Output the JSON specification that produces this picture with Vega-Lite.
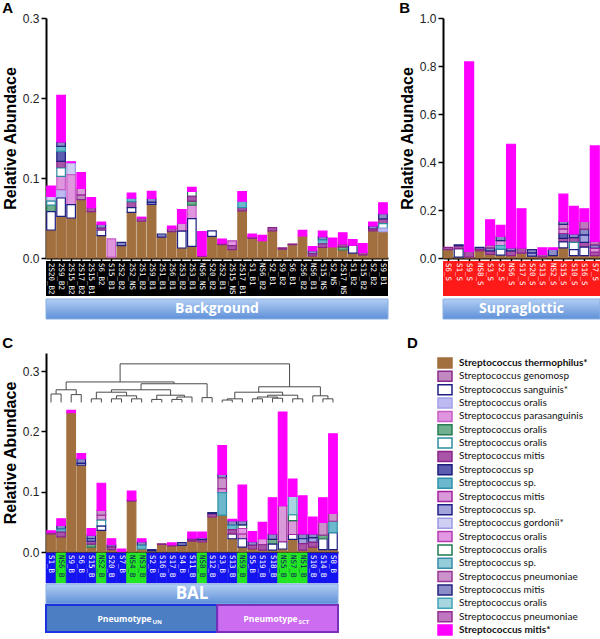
{
"$schema":"https://vega.github.io/schema/vega-lite/v6.json",
"background":"#ffffff",
"padding":{"left":2,"top":1,"right":0,"bottom":0},
"autosize":{"type":"pad"},
"config":{"view":{"stroke":null},"font":"Liberation Sans",
 "axis":{"grid":false,"domainColor":"#000","domainWidth":2,"tickColor":"#000","tickWidth":1.5,"tickSize":5,"labelFont":"Liberation Sans","labelFontSize":12,"labelColor":"#222","titleFont":"Liberation Sans","titleFontSize":16,"titleFontWeight":"bold","titleColor":"#000","titlePadding":4},
 "title":{"anchor":"start","font":"Liberation Sans","fontSize":15,"fontWeight":"bold","color":"#000","offset":-4}},
"datasets":{
"K":[{"k":"01","n":"Streptococcus thermophilus*"},{"k":"02","n":"Streptococcus genomosp"},{"k":"03","n":"Streptococcus sanguinis*"},{"k":"04","n":"Streptococcus oralis"},{"k":"05","n":"Streptococcus parasanguinis"},{"k":"06","n":"Streptococcus oralis"},{"k":"07","n":"Streptococcus oralis"},{"k":"08","n":"Streptococcus mitis"},{"k":"09","n":"Streptococcus sp"},{"k":"10","n":"Streptococcus sp."},{"k":"11","n":"Streptococcus mitis"},{"k":"12","n":"Streptococcus sp."},{"k":"13","n":"Streptococcus gordonii*"},{"k":"14","n":"Streptococcus oralis"},{"k":"15","n":"Streptococcus oralis"},{"k":"16","n":"Streptococcus sp."},{"k":"17","n":"Streptococcus pneumoniae"},{"k":"18","n":"Streptococcus mitis"},{"k":"19","n":"Streptococcus oralis"},{"k":"20","n":"Streptococcus pneumoniae"},{"k":"21","n":"Streptococcus mitis*"}],
"As":[{"s":"2S20_B2"},{"s":"2S9_B2"},{"s":"2S15_B2"},{"s":"2S17_B2"},{"s":"2S15_B1"},{"s":"S6_B2"},{"s":"S15_B1"},{"s":"2S2_B2"},{"s":"2S2_NS"},{"s":"2S1_B2"},{"s":"2S9_B1"},{"s":"2S1_B1"},{"s":"2S6_B1"},{"s":"2S3_B2"},{"s":"2S3_B1"},{"s":"NS6_NS"},{"s":"S20_B2"},{"s":"2S2_B1"},{"s":"2S15_NS"},{"s":"2S17_B1"},{"s":"S1_B1"},{"s":"NS6_B2"},{"s":"S2_B1"},{"s":"S9_B2"},{"s":"S6_B1"},{"s":"2S6_B2"},{"s":"NS6_B1"},{"s":"S15_NS"},{"s":"S2_NS"},{"s":"2S17_NS"},{"s":"S1_B2"},{"s":"S15_B2"},{"s":"S2_B2"},{"s":"S9_B1"}],
"Bs":[{"s":"S6_S"},{"s":"S1_S"},{"s":"S9_S"},{"s":"NS8_S"},{"s":"S3_S"},{"s":"S2_S"},{"s":"NS6_S"},{"s":"S17_S"},{"s":"S20_S"},{"s":"S13_S"},{"s":"NS2_S"},{"s":"S15_S"},{"s":"S10_S"},{"s":"S16_S"},{"s":"S7_S"}],
"Cs":[{"s":"S1_B"},{"s":"NS6_B"},{"s":"S9_B"},{"s":"S6_B"},{"s":"S15_B"},{"s":"NS2_B"},{"s":"S20_B"},{"s":"S7_B"},{"s":"NS4_B"},{"s":"NS3_B"},{"s":"S2_B"},{"s":"S16_B"},{"s":"S17_B"},{"s":"S4_B"},{"s":"S11_B"},{"s":"NS8_B"},{"s":"S12_B"},{"s":"S3_B"},{"s":"S13_B"},{"s":"NS9_B"},{"s":"S5_B"},{"s":"S19_B"},{"s":"S18_B"},{"s":"NS5_B"},{"s":"NS7_B"},{"s":"NS1_B"},{"s":"S10_B"},{"s":"S14_B"},{"s":"S8_B"}],
"A":[
{"s":"2S20_B2","k":"01","v":0.035},{"s":"2S20_B2","k":"13","v":0.006},{"s":"2S20_B2","k":"06","v":0.008},{"s":"2S20_B2","k":"03","v":0.023},{"s":"2S20_B2","k":"07","v":0.005},{"s":"2S20_B2","k":"21","v":0.013},
{"s":"2S9_B2","k":"01","v":0.052},{"s":"2S9_B2","k":"04","v":0.0104},{"s":"2S9_B2","k":"03","v":0.023},{"s":"2S9_B2","k":"05","v":0.0167},{"s":"2S9_B2","k":"08","v":0.0083},{"s":"2S9_B2","k":"09","v":0.0125},{"s":"2S9_B2","k":"07","v":0.0104},{"s":"2S9_B2","k":"10","v":0.0063},{"s":"2S9_B2","k":"18","v":0.0054},{"s":"2S9_B2","k":"21","v":0.0583},
{"s":"2S15_B2","k":"01","v":0.05},{"s":"2S15_B2","k":"13","v":0.015},{"s":"2S15_B2","k":"05","v":0.0375},{"s":"2S15_B2","k":"03","v":0.0167},{"s":"2S15_B2","k":"21","v":0.001},
{"s":"2S17_B2","k":"01","v":0.073},{"s":"2S17_B2","k":"02","v":0.006},{"s":"2S17_B2","k":"11","v":0.008},{"s":"2S17_B2","k":"21","v":0.0196},
{"s":"2S15_B1","k":"01","v":0.058},{"s":"2S15_B1","k":"08","v":0.005},{"s":"2S15_B1","k":"21","v":0.0125},
{"s":"S6_B2","k":"01","v":0.028},{"s":"S6_B2","k":"03","v":0.007},{"s":"S6_B2","k":"18","v":0.005},{"s":"S6_B2","k":"08","v":0.002},{"s":"S6_B2","k":"21","v":0.003},
{"s":"S15_B1","k":"01","v":0.001},{"s":"S15_B1","k":"05","v":0.023},
{"s":"2S2_B2","k":"01","v":0.0155},{"s":"2S2_B2","k":"18","v":0.004},
{"s":"2S2_NS","k":"01","v":0.057},{"s":"2S2_NS","k":"08","v":0.0075},{"s":"2S2_NS","k":"03","v":0.006},{"s":"2S2_NS","k":"10","v":0.0044},{"s":"2S2_NS","k":"21","v":0.0063},
{"s":"2S1_B2","k":"01","v":0.046},{"s":"2S1_B2","k":"08","v":0.004},{"s":"2S1_B2","k":"21","v":0.001},
{"s":"2S9_B1","k":"01","v":0.067},{"s":"2S9_B1","k":"18","v":0.005},{"s":"2S9_B1","k":"12","v":0.0025},{"s":"2S9_B1","k":"21","v":0.0088},
{"s":"2S1_B1","k":"01","v":0.026},{"s":"2S1_B1","k":"18","v":0.004},
{"s":"2S6_B1","k":"01","v":0.033},{"s":"2S6_B1","k":"08","v":0.004},{"s":"2S6_B1","k":"21","v":0.003},
{"s":"2S3_B2","k":"01","v":0.0125},{"s":"2S3_B2","k":"11","v":0.01},{"s":"2S3_B2","k":"03","v":0.021},{"s":"2S3_B2","k":"21","v":0.017},
{"s":"2S3_B1","k":"01","v":0.0146},{"s":"2S3_B1","k":"05","v":0.017},{"s":"2S3_B1","k":"06","v":0.005},{"s":"2S3_B1","k":"03","v":0.0346},{"s":"2S3_B1","k":"15","v":0.006},{"s":"2S3_B1","k":"08","v":0.006},{"s":"2S3_B1","k":"21","v":0.005},
{"s":"NS6_NS","k":"01","v":0.002},{"s":"NS6_NS","k":"08","v":0.001},{"s":"NS6_NS","k":"21","v":0.03},
{"s":"S20_B2","k":"01","v":0.027},{"s":"S20_B2","k":"03","v":0.007},
{"s":"2S2_B1","k":"01","v":0.0167},{"s":"2S2_B1","k":"08","v":0.002},{"s":"2S2_B1","k":"21","v":0.005},
{"s":"2S15_NS","k":"01","v":0.0104},{"s":"2S15_NS","k":"14","v":0.006},{"s":"2S15_NS","k":"08","v":0.005},
{"s":"2S17_B1","k":"01","v":0.059},{"s":"2S17_B1","k":"08","v":0.004},{"s":"2S17_B1","k":"10","v":0.008},{"s":"2S17_B1","k":"21","v":0.012},
{"s":"S1_B1","k":"01","v":0.0246},{"s":"S1_B1","k":"08","v":0.002},{"s":"S1_B1","k":"21","v":0.0034},
{"s":"NS6_B2","k":"01","v":0.0217},{"s":"NS6_B2","k":"21","v":0.0067},
{"s":"S2_B1","k":"01","v":0.034},{"s":"S2_B1","k":"08","v":0.004},
{"s":"S9_B2","k":"01","v":0.011},{"s":"S9_B2","k":"08","v":0.0017},
{"s":"S6_B1","k":"01","v":0.0167},{"s":"S6_B1","k":"08","v":0.0008},
{"s":"2S6_B2","k":"01","v":0.0275},{"s":"2S6_B2","k":"21","v":0.0071},
{"s":"NS6_B1","k":"01","v":0.0025},{"s":"NS6_B1","k":"18","v":0.004},{"s":"NS6_B1","k":"08","v":0.0027},{"s":"NS6_B1","k":"21","v":0.005},
{"s":"S15_NS","k":"01","v":0.0133},{"s":"S15_NS","k":"18","v":0.004},{"s":"S15_NS","k":"10","v":0.005},{"s":"S15_NS","k":"08","v":0.0043},{"s":"S15_NS","k":"21","v":0.007},
{"s":"S2_NS","k":"01","v":0.014},{"s":"S2_NS","k":"21","v":0.011},
{"s":"2S17_NS","k":"01","v":0.01},{"s":"2S17_NS","k":"06","v":0.004},{"s":"2S17_NS","k":"08","v":0.0035},{"s":"2S17_NS","k":"21","v":0.014},
{"s":"S1_B2","k":"01","v":0.006},{"s":"S1_B2","k":"03","v":0.01},{"s":"S1_B2","k":"21","v":0.007},
{"s":"S15_B2","k":"01","v":0.004},{"s":"S15_B2","k":"08","v":0.003},{"s":"S15_B2","k":"21","v":0.011},
{"s":"S2_B2","k":"01","v":0.034},{"s":"S2_B2","k":"18","v":0.004},{"s":"S2_B2","k":"08","v":0.002},{"s":"S2_B2","k":"21","v":0.005},
{"s":"S9_B1","k":"01","v":0.033},{"s":"S9_B1","k":"08","v":0.006},{"s":"S9_B1","k":"07","v":0.006},{"s":"S9_B1","k":"18","v":0.0065},{"s":"S9_B1","k":"04","v":0.004},{"s":"S9_B1","k":"21","v":0.0135}],
"B":[
{"s":"S6_S","k":"01","v":0.035},{"s":"S6_S","k":"08","v":0.009},
{"s":"S1_S","k":"01","v":0.004},{"s":"S1_S","k":"03","v":0.035},{"s":"S1_S","k":"08","v":0.012},{"s":"S1_S","k":"18","v":0.004},
{"s":"S9_S","k":"01","v":0.004},{"s":"S9_S","k":"08","v":0.024},{"s":"S9_S","k":"21","v":0.789},
{"s":"NS8_S","k":"01","v":0.03},{"s":"NS8_S","k":"18","v":0.008},{"s":"NS8_S","k":"08","v":0.006},
{"s":"S3_S","k":"01","v":0.015},{"s":"S3_S","k":"08","v":0.015},{"s":"S3_S","k":"18","v":0.012},{"s":"S3_S","k":"20","v":0.013},{"s":"S3_S","k":"21","v":0.104},
{"s":"S2_S","k":"01","v":0.012},{"s":"S2_S","k":"14","v":0.02},{"s":"S2_S","k":"03","v":0.025},{"s":"S2_S","k":"10","v":0.015},{"s":"S2_S","k":"18","v":0.018},{"s":"S2_S","k":"21","v":0.046},
{"s":"NS6_S","k":"01","v":0.01},{"s":"NS6_S","k":"08","v":0.02},{"s":"NS6_S","k":"18","v":0.012},{"s":"NS6_S","k":"21","v":0.432},
{"s":"S17_S","k":"01","v":0.02},{"s":"S17_S","k":"08","v":0.022},{"s":"S17_S","k":"21","v":0.163},
{"s":"S20_S","k":"01","v":0.008},{"s":"S20_S","k":"18","v":0.015},{"s":"S20_S","k":"12","v":0.012},
{"s":"S13_S","k":"01","v":0.005},{"s":"S13_S","k":"08","v":0.01},{"s":"S13_S","k":"21","v":0.027},
{"s":"NS2_S","k":"01","v":0.01},{"s":"NS2_S","k":"18","v":0.026},{"s":"NS2_S","k":"21","v":0.006},
{"s":"S15_S","k":"01","v":0.042},{"s":"S15_S","k":"17","v":0.02},{"s":"S15_S","k":"08","v":0.015},{"s":"S15_S","k":"03","v":0.025},{"s":"S15_S","k":"09","v":0.02},{"s":"S15_S","k":"18","v":0.012},{"s":"S15_S","k":"11","v":0.018},{"s":"S15_S","k":"21","v":0.114},
{"s":"S10_S","k":"01","v":0.01},{"s":"S10_S","k":"08","v":0.02},{"s":"S10_S","k":"07","v":0.03},{"s":"S10_S","k":"03","v":0.025},{"s":"S10_S","k":"18","v":0.015},{"s":"S10_S","k":"21","v":0.115},
{"s":"S16_S","k":"01","v":0.01},{"s":"S16_S","k":"08","v":0.02},{"s":"S16_S","k":"18","v":0.025},{"s":"S16_S","k":"03","v":0.035},{"s":"S16_S","k":"12","v":0.03},{"s":"S16_S","k":"20","v":0.032},{"s":"S16_S","k":"21","v":0.053},
{"s":"S7_S","k":"01","v":0.01},{"s":"S7_S","k":"08","v":0.015},{"s":"S7_S","k":"18","v":0.015},{"s":"S7_S","k":"11","v":0.015},{"s":"S7_S","k":"20","v":0.015},{"s":"S7_S","k":"21","v":0.397}],
"C":[
{"s":"S1_B","k":"01","v":0.03},{"s":"S1_B","k":"08","v":0.003},{"s":"S1_B","k":"21","v":0.002},
{"s":"NS6_B","k":"01","v":0.025},{"s":"NS6_B","k":"18","v":0.006},{"s":"NS6_B","k":"10","v":0.005},{"s":"NS6_B","k":"08","v":0.008},{"s":"NS6_B","k":"21","v":0.011},
{"s":"S9_B","k":"01","v":0.231},{"s":"S9_B","k":"21","v":0.004},
{"s":"S6_B","k":"01","v":0.144},{"s":"S6_B","k":"18","v":0.008},{"s":"S6_B","k":"03","v":0.003},{"s":"S6_B","k":"21","v":0.008},
{"s":"S15_B","k":"01","v":0.008},{"s":"S15_B","k":"18","v":0.006},{"s":"S15_B","k":"06","v":0.005},{"s":"S15_B","k":"08","v":0.005},{"s":"S15_B","k":"12","v":0.004},{"s":"S15_B","k":"21","v":0.011},
{"s":"NS2_B","k":"01","v":0.036},{"s":"NS2_B","k":"11","v":0.008},{"s":"NS2_B","k":"07","v":0.01},{"s":"NS2_B","k":"17","v":0.008},{"s":"NS2_B","k":"03","v":0.007},{"s":"NS2_B","k":"21","v":0.045},
{"s":"S20_B","k":"01","v":0.004},{"s":"S20_B","k":"18","v":0.004},{"s":"S20_B","k":"08","v":0.004},{"s":"S20_B","k":"21","v":0.01},
{"s":"S7_B","k":"01","v":0.001},{"s":"S7_B","k":"21","v":0.004},
{"s":"NS4_B","k":"01","v":0.0845},{"s":"NS4_B","k":"08","v":0.002},{"s":"NS4_B","k":"21","v":0.0145},
{"s":"NS3_B","k":"01","v":0.005},{"s":"NS3_B","k":"18","v":0.006},{"s":"NS3_B","k":"10","v":0.006},{"s":"NS3_B","k":"21","v":0.005},
{"s":"S2_B","k":"01","v":0.002},{"s":"S2_B","k":"18","v":0.002},
{"s":"S16_B","k":"01","v":0.0125},{"s":"S16_B","k":"08","v":0.001},
{"s":"S17_B","k":"01","v":0.01},{"s":"S17_B","k":"08","v":0.002},{"s":"S17_B","k":"21","v":0.003},
{"s":"S4_B","k":"01","v":0.011},{"s":"S4_B","k":"18","v":0.0045},
{"s":"S11_B","k":"01","v":0.018},{"s":"S11_B","k":"18","v":0.003},{"s":"S11_B","k":"08","v":0.002},{"s":"S11_B","k":"21","v":0.01},
{"s":"NS8_B","k":"01","v":0.0166},{"s":"NS8_B","k":"08","v":0.004},{"s":"NS8_B","k":"18","v":0.003},{"s":"NS8_B","k":"21","v":0.0094},
{"s":"S12_B","k":"01","v":0.058},{"s":"S12_B","k":"08","v":0.0055},{"s":"S12_B","k":"18","v":0.002},
{"s":"S3_B","k":"01","v":0.061},{"s":"S3_B","k":"11","v":0.0065},{"s":"S3_B","k":"10","v":0.0375},{"s":"S3_B","k":"18","v":0.0055},{"s":"S3_B","k":"17","v":0.018},{"s":"S3_B","k":"21","v":0.048},
{"s":"S13_B","k":"01","v":0.022},{"s":"S13_B","k":"18","v":0.008},{"s":"S13_B","k":"10","v":0.007},{"s":"S13_B","k":"03","v":0.008},{"s":"S13_B","k":"08","v":0.007},{"s":"S13_B","k":"21","v":0.002},
{"s":"NS9_B","k":"01","v":0.008},{"s":"NS9_B","k":"11","v":0.008},{"s":"NS9_B","k":"03","v":0.014},{"s":"NS9_B","k":"15","v":0.006},{"s":"NS9_B","k":"14","v":0.009},{"s":"NS9_B","k":"18","v":0.007},{"s":"NS9_B","k":"21","v":0.059},
{"s":"S5_B","k":"01","v":0.005},{"s":"S5_B","k":"18","v":0.006},{"s":"S5_B","k":"08","v":0.006},{"s":"S5_B","k":"21","v":0.017},
{"s":"S19_B","k":"01","v":0.003},{"s":"S19_B","k":"14","v":0.01},{"s":"S19_B","k":"08","v":0.009},{"s":"S19_B","k":"21","v":0.027},
{"s":"S18_B","k":"01","v":0.003},{"s":"S18_B","k":"06","v":0.008},{"s":"S18_B","k":"03","v":0.01},{"s":"S18_B","k":"18","v":0.009},{"s":"S18_B","k":"21","v":0.06},
{"s":"NS5_B","k":"01","v":0.005},{"s":"NS5_B","k":"03","v":0.012},{"s":"NS5_B","k":"11","v":0.06},{"s":"NS5_B","k":"21","v":0.155},
{"s":"NS7_B","k":"01","v":0.021},{"s":"NS7_B","k":"03","v":0.008},{"s":"NS7_B","k":"11","v":0.023},{"s":"NS7_B","k":"15","v":0.01},{"s":"NS7_B","k":"19","v":0.03},{"s":"NS7_B","k":"21","v":0.029},
{"s":"NS1_B","k":"01","v":0.003},{"s":"NS1_B","k":"18","v":0.008},{"s":"NS1_B","k":"12","v":0.008},{"s":"NS1_B","k":"08","v":0.011},{"s":"NS1_B","k":"21","v":0.063},
{"s":"S10_B","k":"01","v":0.008},{"s":"S10_B","k":"12","v":0.008},{"s":"S10_B","k":"18","v":0.006},{"s":"S10_B","k":"08","v":0.008},{"s":"S10_B","k":"21","v":0.028},
{"s":"S14_B","k":"01","v":0.004},{"s":"S14_B","k":"03","v":0.018},{"s":"S14_B","k":"06","v":0.006},{"s":"S14_B","k":"17","v":0.021},{"s":"S14_B","k":"21","v":0.041},
{"s":"S8_B","k":"01","v":0.004},{"s":"S8_B","k":"03","v":0.028},{"s":"S8_B","k":"10","v":0.019},{"s":"S8_B","k":"17","v":0.013},{"s":"S8_B","k":"21","v":0.132}],
"Cd":[
{"x":0,"x2":1,"y":0.262,"y2":0.262},{"x":0,"x2":0,"y":0.262,"y2":0.248},{"x":1,"x2":1,"y":0.262,"y2":0.248},
{"x":2,"x2":3,"y":0.261,"y2":0.261},{"x":2,"x2":2,"y":0.261,"y2":0.248},{"x":3,"x2":3,"y":0.261,"y2":0.248},
{"x":0.5,"x2":2.5,"y":0.269,"y2":0.269},{"x":0.5,"x2":0.5,"y":0.269,"y2":0.262},{"x":2.5,"x2":2.5,"y":0.269,"y2":0.261},
{"x":4,"x2":5,"y":0.254,"y2":0.254},{"x":4,"x2":4,"y":0.254,"y2":0.248},{"x":5,"x2":5,"y":0.254,"y2":0.248},
{"x":6,"x2":7,"y":0.254,"y2":0.254},{"x":6,"x2":6,"y":0.254,"y2":0.248},{"x":7,"x2":7,"y":0.254,"y2":0.248},
{"x":8,"x2":9,"y":0.254,"y2":0.254},{"x":8,"x2":8,"y":0.254,"y2":0.248},{"x":9,"x2":9,"y":0.254,"y2":0.248},
{"x":6.5,"x2":8.5,"y":0.259,"y2":0.259},{"x":6.5,"x2":6.5,"y":0.259,"y2":0.254},{"x":8.5,"x2":8.5,"y":0.259,"y2":0.254},
{"x":4.5,"x2":7.5,"y":0.265,"y2":0.265},{"x":4.5,"x2":4.5,"y":0.265,"y2":0.254},{"x":7.5,"x2":7.5,"y":0.265,"y2":0.259},
{"x":10,"x2":11,"y":0.253,"y2":0.253},{"x":10,"x2":10,"y":0.253,"y2":0.248},{"x":11,"x2":11,"y":0.253,"y2":0.248},
{"x":12,"x2":13,"y":0.253,"y2":0.253},{"x":12,"x2":12,"y":0.253,"y2":0.248},{"x":13,"x2":13,"y":0.253,"y2":0.248},
{"x":12.5,"x2":14,"y":0.257,"y2":0.257},{"x":12.5,"x2":12.5,"y":0.257,"y2":0.253},{"x":14,"x2":14,"y":0.257,"y2":0.248},
{"x":10.5,"x2":13.25,"y":0.26,"y2":0.26},{"x":10.5,"x2":10.5,"y":0.26,"y2":0.253},{"x":13.25,"x2":13.25,"y":0.26,"y2":0.257},
{"x":6,"x2":11.875,"y":0.269,"y2":0.269},{"x":6,"x2":6,"y":0.269,"y2":0.265},{"x":11.875,"x2":11.875,"y":0.269,"y2":0.26},
{"x":15,"x2":16,"y":0.256,"y2":0.256},{"x":15,"x2":15,"y":0.256,"y2":0.248},{"x":16,"x2":16,"y":0.256,"y2":0.248},
{"x":8.94,"x2":15.5,"y":0.279,"y2":0.279},{"x":8.94,"x2":8.94,"y":0.279,"y2":0.269},{"x":15.5,"x2":15.5,"y":0.279,"y2":0.256},
{"x":1.5,"x2":12.22,"y":0.282,"y2":0.282},{"x":1.5,"x2":1.5,"y":0.282,"y2":0.269},{"x":12.22,"x2":12.22,"y":0.282,"y2":0.279},
{"x":17,"x2":18,"y":0.252,"y2":0.252},{"x":17,"x2":17,"y":0.252,"y2":0.248},{"x":18,"x2":18,"y":0.252,"y2":0.248},
{"x":17.5,"x2":19,"y":0.254,"y2":0.254},{"x":17.5,"x2":17.5,"y":0.254,"y2":0.252},{"x":19,"x2":19,"y":0.254,"y2":0.248},
{"x":20,"x2":21,"y":0.254,"y2":0.254},{"x":20,"x2":20,"y":0.254,"y2":0.248},{"x":21,"x2":21,"y":0.254,"y2":0.248},
{"x":22,"x2":23,"y":0.255,"y2":0.255},{"x":22,"x2":22,"y":0.255,"y2":0.248},{"x":23,"x2":23,"y":0.255,"y2":0.248},
{"x":20.5,"x2":22.5,"y":0.257,"y2":0.257},{"x":20.5,"x2":20.5,"y":0.257,"y2":0.254},{"x":22.5,"x2":22.5,"y":0.257,"y2":0.255},
{"x":24,"x2":25,"y":0.254,"y2":0.254},{"x":24,"x2":24,"y":0.254,"y2":0.248},{"x":25,"x2":25,"y":0.254,"y2":0.248},
{"x":21.5,"x2":24.5,"y":0.26,"y2":0.26},{"x":21.5,"x2":21.5,"y":0.26,"y2":0.257},{"x":24.5,"x2":24.5,"y":0.26,"y2":0.254},
{"x":18.25,"x2":23,"y":0.265,"y2":0.265},{"x":18.25,"x2":18.25,"y":0.265,"y2":0.254},{"x":23,"x2":23,"y":0.265,"y2":0.26},
{"x":27,"x2":28,"y":0.254,"y2":0.254},{"x":27,"x2":27,"y":0.254,"y2":0.248},{"x":28,"x2":28,"y":0.254,"y2":0.248},
{"x":26,"x2":27.5,"y":0.259,"y2":0.259},{"x":26,"x2":26,"y":0.259,"y2":0.248},{"x":27.5,"x2":27.5,"y":0.259,"y2":0.254},
{"x":20.625,"x2":26.75,"y":0.274,"y2":0.274},{"x":20.625,"x2":20.625,"y":0.274,"y2":0.265},{"x":26.75,"x2":26.75,"y":0.274,"y2":0.259},
{"x":6.86,"x2":23.69,"y":0.312,"y2":0.312},{"x":6.86,"x2":6.86,"y":0.312,"y2":0.282},{"x":23.69,"x2":23.69,"y":0.312,"y2":0.274}],
"P":[{"g":"UN","a":0,"b":17,"m":8.5},{"g":"SCT","a":17,"b":29,"m":23}]
},
"vconcat":[
{"hconcat":[
 {"title":{"text":"A"},"bounds":"flush","spacing":3,"vconcat":[
  {"width":342,"height":240,"data":{"name":"A"},"mark":{"type":"bar","strokeWidth":1.2},
   "encoding":{
    "x":{"field":"s","type":"nominal","sort":null,"scale":{"paddingInner":0.15,"paddingOuter":0.075},"axis":{"labels":false,"title":null,"tickSize":4}},
    "y":{"field":"v","type":"quantitative","scale":{"domain":[0,0.3],"nice":false},"axis":{"values":[0,0.1,0.2,0.3],"format":".1f","title":"Relative Abundace"}},
    "fill":{"field":"k","type":"nominal","legend":null,"scale":{"domain":["01","02","03","04","05","06","07","08","09","10","11","12","13","14","15","16","17","18","19","20","21"],"range":["#A26F3E","#C08AC0","#FFFFFF","#BDBAF2","#DF96DF","#6FB08E","#FFFFFF","#A855A8","#5C5CB0","#6CB8CC","#DA9ADA","#A4A4DC","#CFCFF4","#E298E2","#FFFFFF","#94CCDA","#CC92CC","#8C8CC8","#A8D6E0","#BF78BF","#FF00FF"]}},
    "stroke":{"field":"k","type":"nominal","legend":null,"scale":{"domain":["01","02","03","04","05","06","07","08","09","10","11","12","13","14","15","16","17","18","19","20","21"],"range":["#A26F3E","#8C2A8C","#1E1E82","#A3A0EA","#C75CC7","#2B7C54","#2B8E9E","#8A238C","#1C1C7C","#2F92AA","#A3239F","#1F1F88","#9C9AE4","#B43AB4","#1F7A52","#3A8DA8","#983596","#22227E","#41A3B6","#952D92","#FF00FF"]}},
    "order":{"field":"k","type":"ordinal","sort":"ascending"}}},
  {"width":342,"height":35,"data":{"name":"As"},"layer":[
    {"mark":{"type":"rect","color":"#000"},"encoding":{}},
    {"mark":{"type":"text","angle":90,"align":"left","baseline":"middle","dx":-15.5,"font":"DejaVu Sans Mono","fontSize":7.5,"color":"#fff"},
     "encoding":{"x":{"field":"s","type":"nominal","sort":null,"scale":{"paddingInner":0,"paddingOuter":0},"axis":null},"text":{"field":"s"}}}]},
  {"width":342,"height":20,"data":{"values":[{"t":"Background"}]},"layer":[
    {"mark":{"type":"rect","stroke":"#8AB0E4","strokeWidth":1,"color":{"gradient":"linear","x1":0,"y1":0,"x2":0,"y2":1,"stops":[{"offset":0,"color":"#B3CEF3"},{"offset":1,"color":"#5E90D8"}]}},"encoding":{}},
    {"mark":{"type":"text","font":"Open Sans","fontSize":14,"fontWeight":"bold","color":"#fff"},"encoding":{"text":{"field":"t"}}}]}
 ]},
 {"title":{"text":"B"},"bounds":"flush","spacing":3,"vconcat":[
  {"width":157,"height":240,"data":{"name":"B"},"mark":{"type":"bar","strokeWidth":1.2},
   "encoding":{
    "x":{"field":"s","type":"nominal","sort":null,"scale":{"paddingInner":0.15,"paddingOuter":0.075},"axis":{"labels":false,"title":null,"tickSize":4}},
    "y":{"field":"v","type":"quantitative","scale":{"domain":[0,1],"nice":false},"axis":{"values":[0,0.2,0.4,0.6,0.8,1],"format":".1f","title":"Relative Abundace"}},
    "fill":{"field":"k","type":"nominal","legend":null,"scale":{"domain":["01","02","03","04","05","06","07","08","09","10","11","12","13","14","15","16","17","18","19","20","21"],"range":["#A26F3E","#C08AC0","#FFFFFF","#BDBAF2","#DF96DF","#6FB08E","#FFFFFF","#A855A8","#5C5CB0","#6CB8CC","#DA9ADA","#A4A4DC","#CFCFF4","#E298E2","#FFFFFF","#94CCDA","#CC92CC","#8C8CC8","#A8D6E0","#BF78BF","#FF00FF"]}},
    "stroke":{"field":"k","type":"nominal","legend":null,"scale":{"domain":["01","02","03","04","05","06","07","08","09","10","11","12","13","14","15","16","17","18","19","20","21"],"range":["#A26F3E","#8C2A8C","#1E1E82","#A3A0EA","#C75CC7","#2B7C54","#2B8E9E","#8A238C","#1C1C7C","#2F92AA","#A3239F","#1F1F88","#9C9AE4","#B43AB4","#1F7A52","#3A8DA8","#983596","#22227E","#41A3B6","#952D92","#FF00FF"]}},
    "order":{"field":"k","type":"ordinal","sort":"ascending"}}},
  {"width":157,"height":35,"data":{"name":"Bs"},"layer":[
    {"mark":{"type":"rect","color":"#FF1A1A"},"encoding":{}},
    {"mark":{"type":"text","angle":90,"align":"left","baseline":"middle","dx":-15.5,"font":"DejaVu Sans Mono","fontSize":7.5,"color":"#fff"},
     "encoding":{"x":{"field":"s","type":"nominal","sort":null,"scale":{"paddingInner":0,"paddingOuter":0},"axis":null},"text":{"field":"s"}}}]},
  {"width":157,"height":20,"data":{"values":[{"t":"Supraglottic"}]},"layer":[
    {"mark":{"type":"rect","stroke":"#8AB0E4","strokeWidth":1,"color":{"gradient":"linear","x1":0,"y1":0,"x2":0,"y2":1,"stops":[{"offset":0,"color":"#B3CEF3"},{"offset":1,"color":"#5E90D8"}]}},"encoding":{}},
    {"mark":{"type":"text","font":"Open Sans","fontSize":14,"fontWeight":"bold","color":"#fff"},"encoding":{"text":{"field":"t"}}}]}
 ]}
],"spacing":10},
{"hconcat":[
 {"title":{"text":"C","offset":2},"bounds":"flush","spacing":1,"vconcat":[
  {"width":292,"height":199,"resolve":{"scale":{"x":"independent","y":"independent"},"axis":{"x":"independent","y":"independent"}},"layer":[
   {"data":{"name":"C"},"mark":{"type":"bar","strokeWidth":1.2},
    "encoding":{
     "x":{"field":"s","type":"nominal","sort":null,"scale":{"paddingInner":0.15,"paddingOuter":0.075},"axis":{"labels":false,"title":null,"tickSize":4}},
     "y":{"field":"v","type":"quantitative","scale":{"domain":[0,0.33],"nice":false},"axis":{"values":[0,0.1,0.2,0.3],"format":".1f","title":"Relative Abundace"}},
     "fill":{"field":"k","type":"nominal","legend":null,"scale":{"domain":["01","02","03","04","05","06","07","08","09","10","11","12","13","14","15","16","17","18","19","20","21"],"range":["#A26F3E","#C08AC0","#FFFFFF","#BDBAF2","#DF96DF","#6FB08E","#FFFFFF","#A855A8","#5C5CB0","#6CB8CC","#DA9ADA","#A4A4DC","#CFCFF4","#E298E2","#FFFFFF","#94CCDA","#CC92CC","#8C8CC8","#A8D6E0","#BF78BF","#FF00FF"]}},
     "stroke":{"field":"k","type":"nominal","legend":null,"scale":{"domain":["01","02","03","04","05","06","07","08","09","10","11","12","13","14","15","16","17","18","19","20","21"],"range":["#A26F3E","#8C2A8C","#1E1E82","#A3A0EA","#C75CC7","#2B7C54","#2B8E9E","#8A238C","#1C1C7C","#2F92AA","#A3239F","#1F1F88","#9C9AE4","#B43AB4","#1F7A52","#3A8DA8","#983596","#22227E","#41A3B6","#952D92","#FF00FF"]}},
     "order":{"field":"k","type":"ordinal","sort":"ascending"}}},
   {"data":{"name":"Cd"},"mark":{"type":"rule","color":"#4a4a4a","strokeWidth":1},
    "encoding":{
     "x":{"field":"x","type":"quantitative","scale":{"domain":[-0.5,28.5],"nice":false,"zero":false},"axis":null},
     "x2":{"field":"x2"},
     "y":{"field":"y","type":"quantitative","scale":{"domain":[0,0.33],"nice":false},"axis":null},
     "y2":{"field":"y2"}}}]},
  {"width":292,"height":30,"data":{"name":"Cs"},"layer":[
    {"mark":{"type":"rect","strokeWidth":0.6},"encoding":{
      "x":{"field":"s","type":"nominal","sort":null,"scale":{"paddingInner":0,"paddingOuter":0},"axis":null},
      "fill":{"condition":{"test":"indexof(datum.s,'NS')===0","value":"#22E622"},"value":"#1414F0"},
      "stroke":{"condition":{"test":"indexof(datum.s,'NS')===0","value":"#22E622"},"value":"#1414F0"}}},
    {"mark":{"type":"text","angle":90,"align":"left","baseline":"middle","dx":-13,"font":"DejaVu Sans Mono","fontSize":7.5},
     "encoding":{"x":{"field":"s","type":"nominal","sort":null,"scale":{"paddingInner":0,"paddingOuter":0},"axis":null},"text":{"field":"s"},
      "color":{"condition":{"test":"indexof(datum.s,'NS')===0","value":"#102060"},"value":"#ffffff"}}}]},
  {"width":292,"height":20,"data":{"values":[{"t":"BAL"}]},"layer":[
    {"mark":{"type":"rect","stroke":"#8AB0E4","strokeWidth":1,"color":{"gradient":"linear","x1":0,"y1":0,"x2":0,"y2":1,"stops":[{"offset":0,"color":"#B3CEF3"},{"offset":1,"color":"#5E90D8"}]}},"encoding":{}},
    {"mark":{"type":"text","font":"Open Sans","fontSize":17,"fontWeight":"bold","color":"#fff"},"encoding":{"text":{"field":"t"}}}]},
  {"width":292,"height":27,"data":{"name":"P"},"layer":[
    {"mark":{"type":"rect","strokeWidth":2},"encoding":{
      "x":{"field":"a","type":"quantitative","scale":{"domain":[0,29],"nice":false,"zero":false},"axis":null},
      "x2":{"field":"b"},
      "fill":{"condition":{"test":"datum.g==='UN'","value":"#4C7EC3"},"value":"#CC6CF0"},
      "stroke":{"condition":{"test":"datum.g==='UN'","value":"#1A32E0"},"value":"#7A30B8"}}},
    {"mark":{"type":"text","align":"right","dx":20,"font":"Open Sans","fontSize":8.5,"fontWeight":"bold","color":"#fff"},
     "encoding":{"x":{"field":"m","type":"quantitative","scale":{"domain":[0,29],"nice":false,"zero":false},"axis":null},"text":{"value":"Pneumotype"}}},
    {"mark":{"type":"text","align":"left","dx":21,"dy":3,"font":"Open Sans","fontSize":6,"fontWeight":"bold","color":"#fff"},
     "encoding":{"x":{"field":"m","type":"quantitative","scale":{"domain":[0,29],"nice":false,"zero":false},"axis":null},"text":{"field":"g"}}}]}
 ]},
 {"title":{"text":"D","offset":2},"width":76,"height":287,"data":{"name":"K"},"layer":[
   {"mark":{"type":"point","shape":"M-1.4,-1H1.4V1H-1.4Z","size":100,"filled":true,"opacity":1,"strokeWidth":1.5},
    "encoding":{
     "y":{"field":"k","type":"nominal","sort":null,"scale":{"type":"point","padding":0.75},"axis":null},
     "fill":{"field":"k","type":"nominal","legend":null,"scale":{"domain":["01","02","03","04","05","06","07","08","09","10","11","12","13","14","15","16","17","18","19","20","21"],"range":["#A26F3E","#C08AC0","#FFFFFF","#BDBAF2","#DF96DF","#6FB08E","#FFFFFF","#A855A8","#5C5CB0","#6CB8CC","#DA9ADA","#A4A4DC","#CFCFF4","#E298E2","#FFFFFF","#94CCDA","#CC92CC","#8C8CC8","#A8D6E0","#BF78BF","#FF00FF"]}},
     "stroke":{"field":"k","type":"nominal","legend":null,"scale":{"domain":["01","02","03","04","05","06","07","08","09","10","11","12","13","14","15","16","17","18","19","20","21"],"range":["#A26F3E","#8C2A8C","#1E1E82","#A3A0EA","#C75CC7","#2B7C54","#2B8E9E","#8A238C","#1C1C7C","#2F92AA","#A3239F","#1F1F88","#9C9AE4","#B43AB4","#1F7A52","#3A8DA8","#983596","#22227E","#41A3B6","#952D92","#FF00FF"]}}}},
   {"transform":[{"filter":"datum.k!=='01' && datum.k!=='21'"}],
    "mark":{"type":"text","align":"left","baseline":"middle","dx":14,"font":"Lato","fontSize":10,"color":"#111"},
    "encoding":{"y":{"field":"k","type":"nominal","sort":null,"scale":{"type":"point","padding":0.75},"axis":null},"text":{"field":"n"}}},
   {"transform":[{"filter":"datum.k==='01' || datum.k==='21'"}],
    "mark":{"type":"text","align":"left","baseline":"middle","dx":14,"font":"Lato","fontSize":10,"fontWeight":"bold","color":"#111"},
    "encoding":{"y":{"field":"k","type":"nominal","sort":null,"scale":{"type":"point","padding":0.75},"axis":null},"text":{"field":"n"}}}
 ]}
],"spacing":68}
],"spacing":16}
